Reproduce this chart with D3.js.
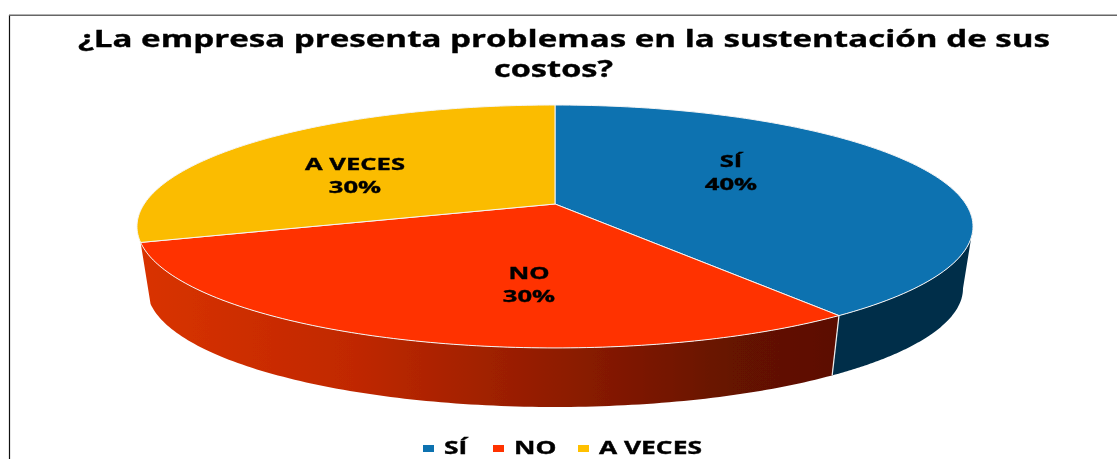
<!DOCTYPE html>
<html>
<head>
<meta charset="utf-8">
<script src="https://cdn.jsdelivr.net/npm/d3@7"></script>
<style>
    html, body { margin: 0; padding: 0; background: #fff; }
    svg { display: block; }
    text { font-family: "Open Sans", sans-serif; font-weight: 700; fill: #050505; stroke: #050505; stroke-width: 0.35px; }
</style>
</head>
<body>
<div id="chart"></div>
<script>
const titleLines = ["¿La empresa presenta problemas en la sustentación de sus", "costos?"]
const categories = ["SÍ", "NO", "A VECES"]
const values = [40, 30, 30]
const labels = ["40%", "30%", "30%"]
const colors = ["#0f72b0", "#ff3300", "#fbbc00"]

const width = 1117, height = 459

// perspective of the pie: disc centre, half width, depth scale and foreshortening
const cx = 555, cy = 204
const a = 410.8, b = 117.3, k = 0.185
// bottom of the slab
const wallDrop = 62.5, wallScale = 0.976
// the text of the picture is stretched sideways
const stretch = 1.55

function rim(theta, drop, scale) {
    const u = Math.sin(theta), v = Math.cos(theta)
    const w = 1 + k * v
    return [cx + scale * a * u / w, cy + drop - scale * b * v / w]
}

function rimPoints(start, end, drop, scale) {
    return d3.range(0, 121).map(i => rim(start + (end - start) * i / 120, drop, scale))
}

const line = d3.line().curve(d3.curveLinear)

const svg = d3.select("#chart").append("svg")
    .attr("width", width)
    .attr("height", height)

// gradient of the red wall, lit from the left
const defs = svg.append("defs")
const redWall = defs.append("linearGradient")
    .attr("id", "redWall")
    .attr("gradientUnits", "userSpaceOnUse")
    .attr("x1", 150).attr("x2", 832).attr("y1", 0).attr("y2", 0)
redWall.selectAll("stop")
    .data([[0, "#d83200"], [0.3, "#c02800"], [0.6, "#8f1c00"], [0.85, "#661200"], [1, "#5c1000"]])
    .join("stop")
    .attr("offset", d => d[0])
    .attr("stop-color", d => d[1])

defs.append("filter").attr("id", "soft")
    .append("feGaussianBlur").attr("stdDeviation", 0.45)
defs.append("filter").attr("id", "softer")
    .append("feGaussianBlur").attr("stdDeviation", 0.35)

// frame
svg.append("line")
    .attr("x1", 9.5).attr("x2", 9.5).attr("y1", 15).attr("y2", height)
    .attr("stroke", "#111")
    .attr("stroke-width", 1.2)
svg.append("line")
    .attr("x1", 9).attr("x2", width).attr("y1", 15.2).attr("y2", 15.2)
    .attr("stroke", "#666")
    .attr("stroke-width", 1.5)

const pie = d3.pie().sort(null).value(d => d)
const arcs = pie(values)

const slab = svg.append("g").attr("filter", "url(#softer)")

// walls start at the right silhouette of the disc, the rest is hidden behind the top face
const silhouette = Math.acos(-k)
const walls = slab.append("g")
const wallFills = ["#062f4a", "url(#redWall)"]
arcs.slice(0, 2).forEach((d, i) => {
    const start = Math.max(d.startAngle, silhouette)
    const top = rimPoints(start, d.endAngle, 0, 1)
    const bottom = rimPoints(start, d.endAngle, wallDrop, wallScale).reverse()
    walls.append("path")
        .attr("d", line(top.concat(bottom)) + "Z")
        .attr("fill", wallFills[i])
})
// white seam between the two walls
walls.append("path")
    .attr("d", line([rim(arcs[1].startAngle, 0, 1), rim(arcs[1].startAngle, wallDrop, wallScale)]))
    .attr("stroke", "#eee")
    .attr("stroke-width", 1.2)

// top face
slab.append("g").selectAll("path")
    .data(arcs)
    .join("path")
    .attr("d", d => line([[cx, cy]].concat(rimPoints(d.startAngle, d.endAngle, 0, 1))) + "Z")
    .attr("fill", (d, i) => colors[i])
    .attr("stroke", "#f4f4f4")
    .attr("stroke-width", 1)
    .attr("stroke-linejoin", "round")

const soft = svg.append("g").attr("filter", "url(#soft)")

// title
const titleX = [564, 553.5], titleWidth = [972, 119]
soft.selectAll(".title")
    .data(titleLines)
    .join("text")
    .attr("class", "title")
    .attr("x", (d, i) => titleX[i])
    .attr("y", (d, i) => 47 + i * 30)
    .attr("text-anchor", "middle")
    .attr("font-size", 23.5)
    .attr("textLength", (d, i) => titleWidth[i])
    .attr("lengthAdjust", "spacingAndGlyphs")
    .text(d => d)

// slice labels
const labelX = [731, 529, 355], labelY = [167, 279, 170]
const labelG = soft.selectAll(".lbl")
    .data(arcs)
    .join("g")
    .attr("class", "lbl")
    .attr("transform", (d, i) => `translate(${labelX[i]},${labelY[i]}) scale(${stretch},1)`)
labelG.append("text")
    .attr("text-anchor", "middle")
    .attr("font-size", 16.5)
    .text((d, i) => categories[i])
labelG.append("text")
    .attr("text-anchor", "middle")
    .attr("y", 23)
    .attr("font-size", 16.5)
    .text((d, i) => labels[i])

// legend
const legendX = [423, 493, 578]
const legend = soft.selectAll(".leg")
    .data(categories)
    .join("g")
    .attr("class", "leg")
    .attr("transform", (d, i) => `translate(${legendX[i]},454)`)
legend.append("rect")
    .attr("y", -9)
    .attr("width", 11)
    .attr("height", 7)
    .attr("fill", (d, i) => colors[i] === "#fbbc00" ? "#ffc000" : colors[i])
legend.append("text")
    .attr("transform", `translate(21,0) scale(${stretch},1)`)
    .attr("font-size", 17)
    .text(d => d)
</script>
</body>
</html>
